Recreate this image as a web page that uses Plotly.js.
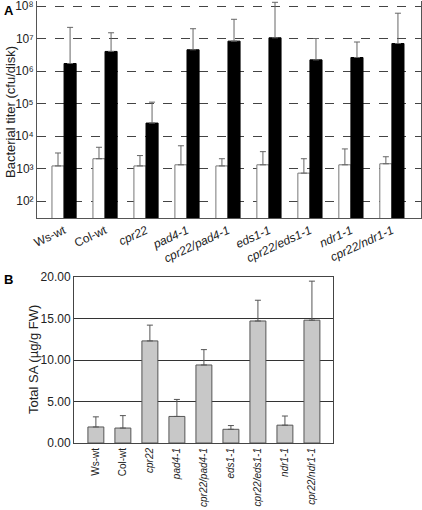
<!DOCTYPE html>
<html>
<head>
<meta charset="utf-8">
<script src="https://cdn.plot.ly/plotly-3.0.1.min.js"></script>
<style>html,body{margin:0;padding:0;background:#fff;}#chart{width:422px;height:510px;}</style>
</head>
<body>
<div id="chart"></div>
<script>
// ---- Data ----
var categories = ["Ws-wt", "Col-wt", "cpr22", "pad4-1", "cpr22/pad4-1", "eds1-1", "cpr22/eds1-1", "ndr1-1", "cpr22/ndr1-1"];
var italicCats = [false, false, true, true, true, true, true, true, true];

// Panel A: bacterial titer (cfu/disk)
var titerDay0 = [1200, 2000, 1200, 1300, 1200, 1300, 720, 1300, 1400];
var titerDay0Top = [3000, 4500, 2500, 5000, 2000, 3300, 2000, 4000, 2300];
var titerDay3 = [1.7e6, 4.0e6, 2.5e4, 4.5e6, 8.3e6, 1.05e7, 2.2e6, 2.6e6, 7.0e6];
var titerDay3Top = [2.2e7, 1.5e7, 1.1e5, 2.0e7, 3.9e7, 1.3e8, 1.0e7, 7.8e6, 6.0e7];

// Panel B: total SA (ug/g FW)
var totalSA = [1.93, 1.8, 12.3, 3.2, 9.4, 1.65, 14.7, 2.15, 14.8];
var totalSATop = [3.15, 3.3, 14.2, 5.25, 11.25, 2.1, 17.2, 3.25, 19.5];

var yExpA = [2, 3, 4, 5, 6, 7, 8];
var yTickTextA = ["10²", "10³", "10⁴", "10⁵", "10⁶", "10⁷", "10⁸"];
var yTicksB = [0, 5, 10, 15, 20];

// ---- Build ----
var idx = categories.map(function(c, i){ return i; });
var tickText = categories.map(function(c, i){ return italicCats[i] ? "<i>" + c + "</i>" : c; });
var yTickValsA = yExpA.map(function(e){ return Math.pow(10, e); });
function diff(top, val){ return top.map(function(t, i){ return t - val[i]; }); }
function zeros(a){ return a.map(function(){ return 0; }); }

var font = "Liberation Sans, Arial, sans-serif";
var topA = 1, botA = 218, decA = (201 - 6) / 6;
var rangeTop = 8 + (6 - topA) / decA, rangeBot = 2 - (botA - 201) / decA;

var traces = [
  {
    type: "bar", x: idx, y: titerDay0, xaxis: "x", yaxis: "y",
    marker: {color: "#ffffff", line: {color: "#777777", width: 1}},
    error_y: {type: "data", symmetric: false, array: diff(titerDay0Top, titerDay0), arrayminus: zeros(titerDay0), color: "#666666", thickness: 1, width: 3},
    showlegend: false, hoverinfo: "y"
  },
  {
    type: "bar", x: idx, y: titerDay3, xaxis: "x", yaxis: "y",
    marker: {color: "#000000", line: {color: "#000000", width: 1}},
    error_y: {type: "data", symmetric: false, array: diff(titerDay3Top, titerDay3), arrayminus: zeros(titerDay3), color: "#666666", thickness: 1, width: 3},
    showlegend: false, hoverinfo: "y"
  },
  {
    type: "bar", x: idx, y: totalSA, xaxis: "x2", yaxis: "y2",
    marker: {color: "#c8c8c8", line: {color: "#555555", width: 1}},
    error_y: {type: "data", symmetric: false, array: diff(totalSATop, totalSA), arrayminus: zeros(totalSA), color: "#555555", thickness: 1, width: 3},
    showlegend: false, hoverinfo: "y"
  }
];

var layout = {
  width: 422, height: 510,
  margin: {l: 0, r: 0, t: 0, b: 0},
  paper_bgcolor: "#ffffff", plot_bgcolor: "#ffffff",
  font: {family: font, size: 12, color: "#222222"},
  barmode: "group",
  bargap: 0.41, bargroupgap: 0,
  showlegend: false,
  xaxis: {
    domain: [37/422, 421/422], anchor: "y",
    range: [-0.66, 8.71], tickmode: "array", tickvals: idx, ticktext: tickText,
    tickangle: -25, showgrid: false, zeroline: false, ticks: "",
    showline: true, linecolor: "#555555", linewidth: 1,
    tickfont: {size: 12, color: "#222222"}, automargin: false, ticklabeloverflow: "allow"
  },
  yaxis: {
    domain: [1 - botA/510, 1 - topA/510], anchor: "x",
    type: "log", range: [rangeBot, rangeTop],
    tickmode: "array", tickvals: yTickValsA, ticktext: yTickTextA,
    showgrid: true, gridcolor: "#444444", griddash: "dash", gridwidth: 1,
    zeroline: false, ticks: "",
    showline: true, mirror: true, linecolor: "#555555", linewidth: 1,
    tickfont: {size: 12, color: "#222222"}, automargin: false, ticklabeloverflow: "allow"
  },
  xaxis2: {
    domain: [74/422, 333/422], anchor: "y2",
    range: [-0.81, 8.78], tickmode: "array", tickvals: idx, ticktext: tickText,
    tickangle: -90, showgrid: false, zeroline: false, ticks: "",
    showline: true, mirror: true, linecolor: "#444444", linewidth: 1,
    tickfont: {size: 10, color: "#222222"}, automargin: false, ticklabeloverflow: "allow"
  },
  yaxis2: {
    domain: [1 - 443/510, 1 - 277/510], anchor: "x2",
    range: [0, 20], tickmode: "array", tickvals: yTicksB, tickformat: ".2f",
    showgrid: true, gridcolor: "#333333", gridwidth: 1,
    zeroline: false, ticks: "",
    showline: true, mirror: true, linecolor: "#444444", linewidth: 1,
    tickfont: {size: 12, color: "#222222"}, automargin: false, ticklabeloverflow: "allow"
  },
  annotations: [
    {text: "<b>A</b>", xref: "paper", yref: "paper", x: 2/422, y: 1 - 1/510, xanchor: "left", yanchor: "top", showarrow: false, font: {size: 13, color: "#000000"}},
    {text: "<b>B</b>", xref: "paper", yref: "paper", x: 2/422, y: 1 - 270/510, xanchor: "left", yanchor: "top", showarrow: false, font: {size: 13, color: "#000000"}},
    {text: "Bacterial titer (cfu/disk)", xref: "paper", yref: "paper", x: 10/422, y: 1 - 112/510, xanchor: "center", yanchor: "middle", textangle: -90, showarrow: false, font: {size: 13, color: "#222222"}},
    {text: "Total SA (µg/g FW)", xref: "paper", yref: "paper", x: 33/422, y: 1 - 360/510, xanchor: "center", yanchor: "middle", textangle: -90, showarrow: false, font: {size: 13, color: "#222222"}}
  ]
};

Plotly.newPlot("chart", traces, layout, {staticPlot: true, displayModeBar: false});
</script>
</body>
</html>
